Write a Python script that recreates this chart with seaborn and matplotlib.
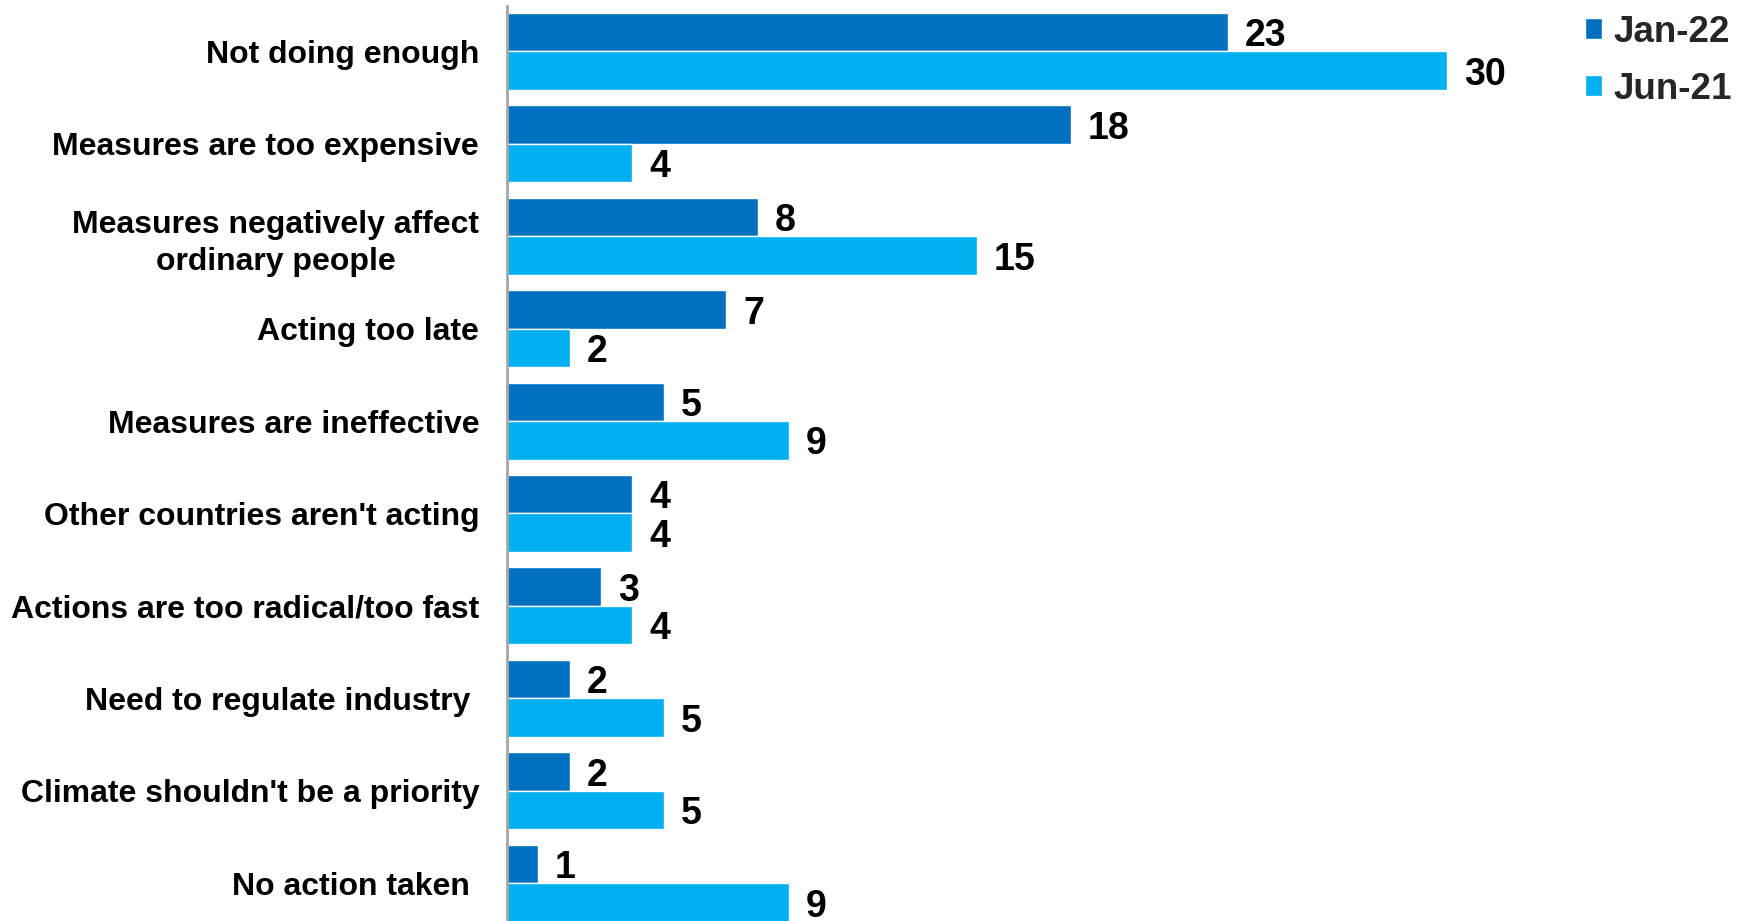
import matplotlib
matplotlib.use("Agg")
import matplotlib.pyplot as plt
import seaborn as sns
import pandas as pd

# Reasons people give about government climate action, two survey waves (%)
categories = [
    "Not doing enough",
    "Measures are too expensive",
    "Measures negatively affect\nordinary people",
    "Acting too late",
    "Measures are ineffective",
    "Other countries aren't acting",
    "Actions are too radical/too fast",
    "Need to regulate industry ",
    "Climate shouldn't be a priority",
    "No action taken ",
]
jan_22 = [23, 18, 8, 7, 5, 4, 3, 2, 2, 1]
jun_21 = [30, 4, 15, 2, 9, 4, 4, 5, 5, 9]
series_names = ["Jan-22", "Jun-21"]
series_colors = ["#0070C0", "#00B0F0"]

df = pd.DataFrame({
    "reason": categories * 2,
    "value": jan_22 + jun_21,
    "wave": [series_names[0]] * len(categories) + [series_names[1]] * len(categories),
})

sns.set_theme(style="white")
plt.rcParams["font.family"] = ["Liberation Sans", "DejaVu Sans"]

W, H, DPI = 1746, 921, 100
fig = plt.figure(figsize=(W / DPI, H / DPI), dpi=DPI)
ax_left, ax_right, ax_top = 507, 1560, 6
ax = fig.add_axes([ax_left / W, 0, (ax_right - ax_left) / W, (H - ax_top) / H])

sns.barplot(
    data=df, y="reason", x="value", hue="wave", order=categories,
    hue_order=series_names, palette=series_colors, orient="h",
    width=0.833, ax=ax, saturation=1, legend=True,
)

ax.set_xlim(0, 33.6)
ax.set_ylim(9.41, -0.492)

# value labels just right of each bar, nudged slightly below the bar centre
for cont in ax.containers:
    anns = ax.bar_label(cont, fmt="%d", padding=12, fontsize=27,
                        fontweight="bold", color="black")
    for ann in anns:
        x_off, y_off = ann.xyann
        ann.xyann = (x_off, y_off - 3.0)

for s in ["top", "right", "bottom"]:
    ax.spines[s].set_visible(False)
ax.spines["left"].set_color("#A6A6A6")
ax.spines["left"].set_linewidth(2)
ax.set_xticks([])
ax.set_xlabel("")
ax.set_ylabel("")
ax.tick_params(axis="y", length=0, pad=20)
for lbl in ax.get_yticklabels():
    lbl.set_fontsize(23)
    lbl.set_fontweight("bold")
    lbl.set_color("black")
    lbl.set_multialignment("center")
    lbl.set_linespacing(1.3)

handles, labels = ax.get_legend_handles_labels()
ax.legend(
    handles, labels, loc="upper left", bbox_to_anchor=(1570 / W, 1.0),
    bbox_transform=fig.transFigure, frameon=False,
    prop={"size": 26.5, "weight": "bold"}, handlelength=0.48, handleheight=0.48,
    handletextpad=0.3, labelspacing=0.6, borderaxespad=0.0,
)

fig.savefig("out.png", dpi=DPI)
